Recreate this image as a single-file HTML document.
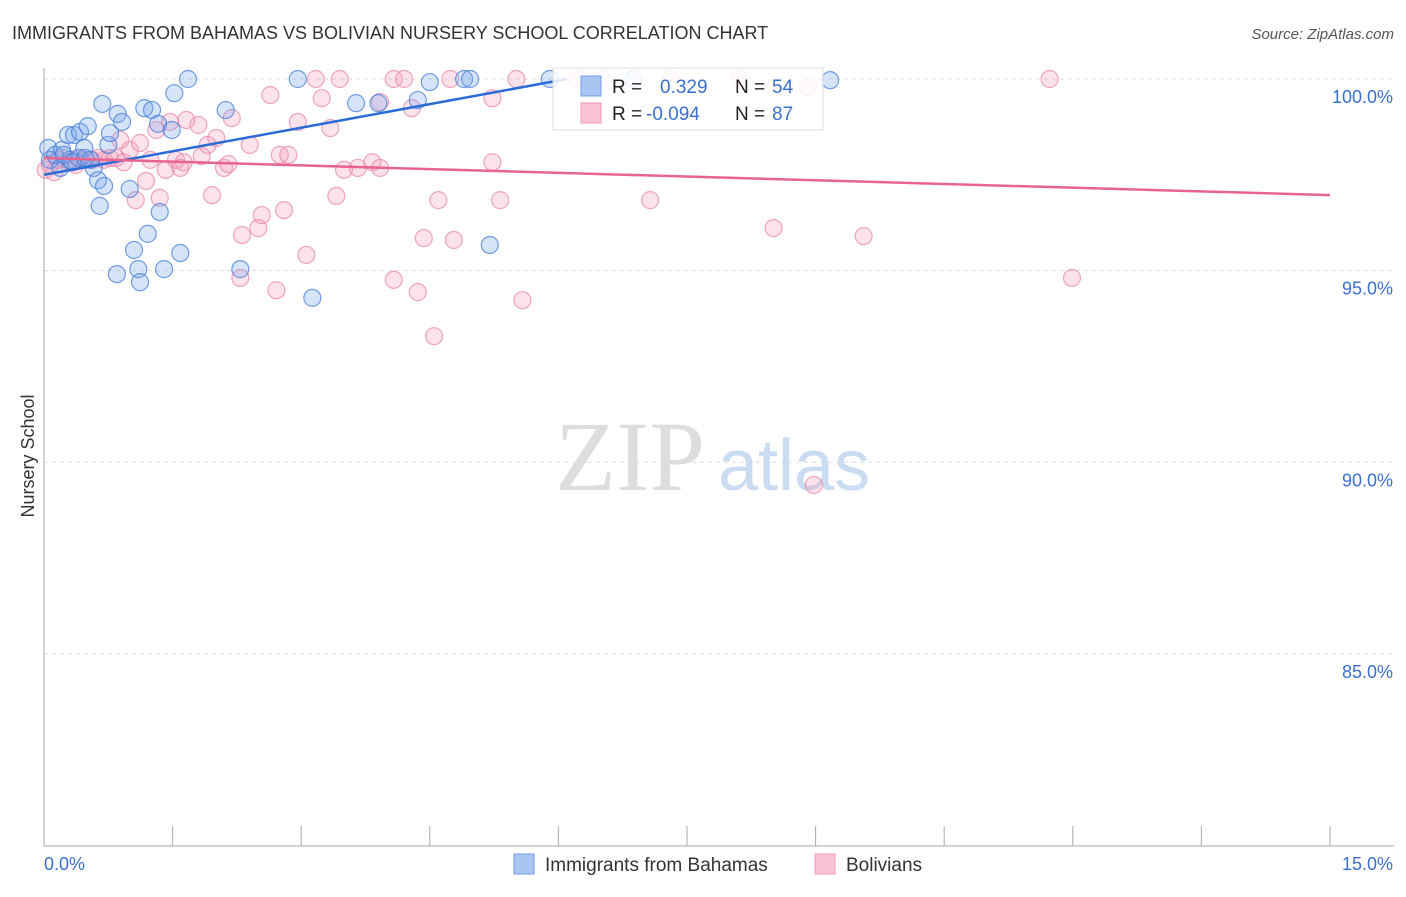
<!DOCTYPE html>
<html><head><meta charset="utf-8"><style>
body{margin:0;background:#fff;font-family:"Liberation Sans",sans-serif}
</style></head><body>
<svg width="1406" height="892" xmlns="http://www.w3.org/2000/svg" font-family="Liberation Sans, sans-serif">
<text x="12" y="39" font-size="18" fill="#333">IMMIGRANTS FROM BAHAMAS VS BOLIVIAN NURSERY SCHOOL CORRELATION CHART</text>
<text x="1394" y="39" font-size="15" fill="#555" font-style="italic" text-anchor="end">Source: ZipAtlas.com</text>
<g id="grid"></g>
<g id="axes"></g>
<text x="555" y="490" font-size="100" fill="#ddd" font-family="Liberation Serif, serif">ZIP</text>
<text x="718" y="490" font-size="72" fill="#c9dcf2">atlas</text>
<g id="pts"></g>
<g id="trend"></g>
<text transform="translate(34,456) rotate(-90)" font-size="18" fill="#333" text-anchor="middle">Nursery School</text>
<g>
<rect x="553" y="68" width="270" height="62" fill="#fff" fill-opacity="0.85" stroke="#ddd"/>
<rect x="581" y="76" width="20" height="20" fill="#a9c6f2" stroke="#6f9fe6"/>
<rect x="581" y="103" width="20" height="20" fill="#f8c3d3" stroke="#ee9ab5"/>
<text x="612" y="93" font-size="19" fill="#222">R = </text><text x="660" y="93" font-size="19" fill="#3a70d0">0.329</text>
<text x="735" y="93" font-size="19" fill="#222">N = </text><text x="772" y="93" font-size="19" fill="#3a70d0">54</text>
<text x="612" y="120" font-size="19" fill="#222">R = </text><text x="646" y="120" font-size="19" fill="#3a70d0">-0.094</text>
<text x="735" y="120" font-size="19" fill="#222">N = </text><text x="772" y="120" font-size="19" fill="#3a70d0">87</text>
</g>
<g>
<rect x="514" y="854" width="20" height="20" fill="#a9c6f2" stroke="#6f9fe6"/>
<text x="545" y="871" font-size="19" fill="#333">Immigrants from Bahamas</text>
<rect x="815" y="854" width="20" height="20" fill="#f8c3d3" stroke="#ee9ab5"/>
<text x="846" y="871" font-size="19" fill="#333">Bolivians</text>
</g>
</svg>
<script>
const blueX=[0.05,0.07,0.13,0.19,0.21,0.28,0.30,0.35,0.40,0.42,0.47,0.51,0.54,0.58,0.63,0.65,0.68,0.70,0.75,0.77,0.86,0.91,1.00,1.05,1.10,1.12,0.85,1.17,1.21,1.26,1.33,1.35,1.40,1.49,1.52,1.59,1.68,2.12,2.29,2.96,3.13,3.64,3.90,4.36,4.50,4.90,4.97,5.20,5.90,6.88,9.17,0.48,0.23,0.33];
const blueY=[98.20,97.89,98.02,97.68,98.15,98.54,97.89,98.54,97.94,98.62,98.20,98.77,97.89,97.68,97.36,96.69,99.35,97.21,98.28,98.59,99.09,98.88,97.13,95.54,95.04,94.70,94.91,99.24,95.96,99.19,98.83,96.53,95.04,98.67,99.63,95.46,100,99.19,95.04,100,94.29,99.37,99.37,99.45,99.92,100,100,95.67,100,100,99.97,97.94,98.02,97.83];
const pinkX=[0.02,0.07,0.12,0.16,0.23,0.30,0.37,0.42,0.49,0.56,0.63,0.70,0.77,0.84,0.89,0.93,1.00,1.07,1.12,1.19,1.24,1.31,1.35,1.42,1.47,1.54,1.59,1.66,1.63,1.80,1.84,1.91,1.96,2.01,2.10,2.15,2.19,2.31,2.29,2.40,2.50,2.54,2.64,2.71,2.75,2.80,2.85,2.96,3.06,3.17,3.24,3.34,3.41,3.45,3.50,3.66,3.83,3.92,3.92,4.08,4.08,4.20,4.29,4.36,4.43,4.55,4.60,4.74,4.78,5.23,5.23,5.32,5.51,5.58,6.23,6.51,7.07,7.30,8.12,8.51,8.91,8.98,9.56,11.73,11.99];
const pinkY=[97.63,97.76,97.57,97.89,97.94,97.83,97.76,97.94,97.89,97.89,97.94,97.89,97.94,97.94,98.41,97.83,98.15,96.84,98.33,97.34,97.89,98.67,96.90,97.63,98.88,97.89,97.68,98.93,97.83,98.80,97.99,98.28,96.97,98.46,97.68,97.78,98.98,95.93,94.81,98.28,96.11,96.45,99.58,94.49,98.02,96.58,98.02,98.88,95.41,100,99.50,98.72,96.95,100,97.63,97.68,97.83,97.68,99.40,100,94.76,100,99.24,94.44,95.85,93.29,96.84,100,95.80,99.50,97.83,96.84,100,94.23,100,100,96.84,100,100,96.11,99.79,89.41,95.90,100,94.81];
const blueTrendX=[0,6.1];
const blueTrendY=[97.5,100];
const pinkTrendX=[0,15];
const pinkTrendY=[97.94,96.97];
const yTicks=[100,95,90,85];
const yTickLabels=["100.0%","95.0%","90.0%","85.0%"];
const xTicks=[0,1.5,3,4.5,6,7.5,9,10.5,12,13.5,15];

const NS="http://www.w3.org/2000/svg";
const X0=44,X1=1330,Y100=79,PX_PER=38.33;
const sx=v=>X0+(X1-X0)*v/15;
const sy=v=>Y100+(100-v)*PX_PER;
function mk(tag,attrs,parent){const e=document.createElementNS(NS,tag);for(const k in attrs)e.setAttribute(k,attrs[k]);parent.appendChild(e);return e;}
const grid=document.getElementById('grid'),axes=document.getElementById('axes'),pts=document.getElementById('pts'),trend=document.getElementById('trend');
yTicks.forEach((t,i)=>{
  const l=mk('line',{x1:X0,x2:1394,y1:sy(t),y2:sy(t),stroke:'#ddd','stroke-dasharray':'4,4'},grid);
  
  
  const tx=mk('text',{x:1393,y:sy(t)+24,'font-size':18,fill:'#3a70d0','text-anchor':'end'},axes);
  tx.textContent=yTickLabels[i];
  
  
});
const ya=mk('line',{x1:X0,x2:X0,y1:68,y2:846,stroke:'#aaa'},axes);


const xa=mk('line',{x1:X0,x2:1394,y1:846,y2:846,stroke:'#aaa'},axes);


xTicks.forEach(t=>{
  const l=mk('line',{x1:sx(t),x2:sx(t),y1:826,y2:846,stroke:'#aaa'},axes);
  
  
});
const xl0=mk('text',{x:44,y:870,'font-size':18,fill:'#3a70d0'},axes);xl0.textContent="0.0%";


const xl1=mk('text',{x:1393,y:870,'font-size':18,fill:'#3a70d0','text-anchor':'end'},axes);xl1.textContent="15.0%";


pinkX.forEach((x,i)=>{
  const c=mk('circle',{cx:sx(x),cy:sy(pinkY[i]),r:8.5,fill:'rgba(244,160,188,0.3)',stroke:'rgba(232,130,165,0.7)','stroke-width':1.2},pts);
  
  
});
blueX.forEach((x,i)=>{
  const c=mk('circle',{cx:sx(x),cy:sy(blueY[i]),r:8.5,fill:'rgba(120,165,235,0.3)',stroke:'rgba(70,125,215,0.75)','stroke-width':1.2},pts);
  
  
});
const bt=mk('line',{x1:sx(blueTrendX[0]),y1:sy(blueTrendY[0]),x2:sx(blueTrendX[1]),y2:sy(blueTrendY[1]),stroke:'#2a6bd6','stroke-width':2.5},trend);


const pt=mk('line',{x1:sx(pinkTrendX[0]),y1:sy(pinkTrendY[0]),x2:sx(pinkTrendX[1]),y2:sy(pinkTrendY[1]),stroke:'#e8648e','stroke-width':2.5},trend);


</script>
</body></html>
